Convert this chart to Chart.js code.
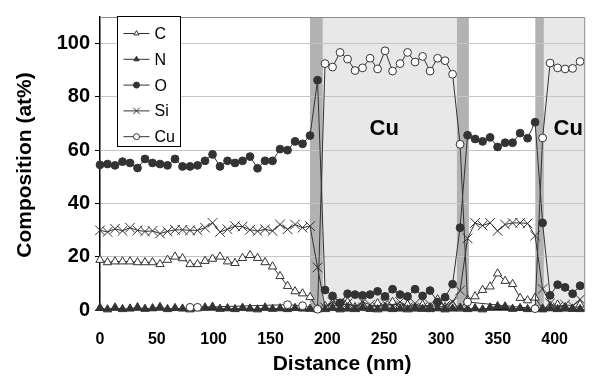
<!DOCTYPE html>
<html>
<head>
<meta charset="utf-8">
<script src="https://cdn.jsdelivr.net/npm/chart.js@4.4.1/dist/chart.umd.min.js"></script>
<style>
  html, body { margin: 0; padding: 0; background: #fff; }
  #wrap { width: 592px; height: 381px; }
</style>
</head>
<body>
<div id="wrap"><canvas id="chart" width="592" height="381"></canvas></div>
<script>
// Depth profile - composition (at%) against distance (nm)

const distance = [
    0.0, 6.6, 13.2, 19.8, 26.4, 33.0, 39.6, 46.2, 52.8, 59.4,
    66.0, 72.6, 79.2, 85.8, 92.4, 99.0, 105.6, 112.2, 118.8, 125.4,
    132.0, 138.6, 145.2, 151.8, 158.4, 165.0, 171.6, 178.2, 184.8, 191.4,
    198.0, 204.6, 211.2, 217.8, 224.4, 231.0, 237.6, 244.2, 250.8, 257.4,
    264.0, 270.6, 277.2, 283.8, 290.4, 297.0, 303.6, 310.2, 316.8, 323.4,
    330.0, 336.6, 343.2, 349.8, 356.4, 363.0, 369.6, 376.2, 382.8, 389.4,
    396.0, 402.6, 409.2, 415.8, 422.4
];

const carbon = [
    18.8, 17.9, 18.2, 18.2, 18.2, 17.9, 17.9, 17.9, 17.2, 18.8,
    20.0, 19.4, 17.2, 17.2, 18.4, 19.2, 20.0, 18.2, 17.6, 19.5,
    20.6, 19.5, 17.9, 16.3, 12.7, 9.0, 7.0, 6.2, 4.8, 0.5,
    1.5, 2.5, 1.0, 3.0, 1.0, 2.0, 0.5, 2.5, 1.0, 3.0,
    1.5, 2.0, 0.5, 2.0, 1.0, 4.0, 1.0, 2.0, 0.5, 3.9,
    5.1, 7.5, 8.8, 13.7, 10.9, 9.7, 4.5, 3.6, 4.6, 0.5,
    1.5, 2.0, 1.0, 0.5, 2.0
];

const nitrogen = [
    0.8, 0.2, 0.9, 0.3, 0.5, 1.0, 0.4, 0.6, 1.1, 0.3,
    0.7, 0.5, 0.2, 0.6, 0.9, 1.2, 0.4, 0.6, 0.3, 0.8,
    0.5, 0.2, 0.9, 0.4, 0.6, 0.3, 0.7, 0.5, 0.4, 0.2,
    0.3, 0.8, 0.2, 0.5, 0.3, 0.9, 0.4, 0.2, 0.6, 0.3,
    0.5, 0.2, 0.7, 0.4, 0.3, 0.6, 0.2, 0.5, 0.8, 0.3,
    0.6, 0.2, 0.9, 1.4, 1.3, 0.4, 0.7, 0.3, 0.5, 0.2,
    0.6, 0.3, 0.5, 0.4, 0.3
];

const oxygen = [
    54.5, 54.8, 54.3, 55.7, 55.2, 53.3, 56.7, 55.2, 54.8, 54.3,
    56.7, 53.9, 53.9, 54.3, 56.0, 58.4, 53.9, 56.0, 55.2, 56.0,
    57.6, 53.2, 56.0, 56.0, 60.4, 60.0, 63.3, 62.4, 65.5, 86.3,
    7.5, 5.3, 2.7, 6.1, 5.8, 5.5, 5.8, 7.0, 5.1, 7.8,
    5.8, 5.1, 7.8, 5.3, 7.3, 3.0, 4.8, 9.7, 30.9, 65.6,
    64.2, 63.3, 64.8, 61.2, 62.8, 62.8, 66.4, 64.5, 70.5, 32.7,
    5.5, 9.5, 8.5, 6.1, 9.1
];

const silicon = [
    29.9, 29.3, 30.5, 29.7, 30.9, 29.9, 29.5, 29.7, 28.7, 29.5,
    30.1, 30.1, 29.9, 29.9, 30.9, 32.7, 29.3, 30.3, 31.5, 31.3,
    30.1, 29.6, 30.3, 29.7, 32.1, 30.3, 32.1, 30.9, 31.5, 16.0,
    1.0, 3.0, 1.5, 2.5, 1.0, 3.0, 2.0, 1.0, 2.5, 1.5,
    3.0, 1.0, 2.5, 1.0, 2.0, 1.0, 1.5, 3.0, 7.3, 26.9,
    32.7, 31.7, 32.7, 29.7, 32.1, 32.7, 32.7, 32.5, 27.9, 7.9,
    2.5, 1.0, 2.0, 1.5, 4.0
];

// Cu is only detected at some points outside the Cu layers (null = not detected)
const copper = [
    null, null, null, null, null, null, null, null, null, null,
    null, null, 1.0, 1.0, null, null, null, null, null, null,
    null, null, null, null, null, 2.0, null, 1.6, null, 0.3,
    92.5, 91.2, 96.7, 94.2, 89.9, 90.9, 94.5, 90.5, 97.3, 89.7,
    92.5, 96.7, 93.1, 95.2, 89.7, 94.5, 93.6, 88.5, 62.2, 3.0,
    null, null, null, null, null, null, null, null, 0.5, 64.6,
    92.7, 90.9, 90.5, 90.7, 93.3
];

// Shaded zones along the distance axis (nm)
const cuLayers = [[196.0, 314.0], [390.5, 426.0]];
const interfaces = [[184.7, 196.0], [314.0, 324.5], [383.0, 390.5]];
const cuLabelSpots = [[250, 68], [412, 68]];

const xTicks = [0, 50, 100, 150, 200, 250, 300, 350, 400];
const yTicks = [0, 20, 40, 60, 80, 100];

const FONT = '"Liberation Sans", Arial, Helvetica, sans-serif';
const INK = '#333333';

const series = [
    { label: 'C',  values: carbon,   style: 'triangle', radius: 4.8, fill: '#ffffff' },
    { label: 'N',  values: nitrogen, style: 'triangle', radius: 4.8, fill: INK },
    { label: 'O',  values: oxygen,   style: 'circle',   radius: 3.9, fill: INK },
    { label: 'Si', values: silicon,  style: 'crossRot', radius: 6.8, fill: INK },
    { label: 'Cu', values: copper,   style: 'circle',   radius: 3.9, fill: '#ffffff' }
];

// Gray bands behind the grid
const bandPlugin = {
    id: 'bands',
    beforeDraw(chart) {
        const { ctx, chartArea: a, scales: { x } } = chart;
        ctx.save();
        ctx.fillStyle = '#e8e8e8';
        cuLayers.forEach(([from, to]) => {
            const x0 = x.getPixelForValue(from);
            const x1 = Math.min(x.getPixelForValue(to), a.right);
            ctx.fillRect(x0, a.top, x1 - x0, a.bottom - a.top);
        });
        ctx.fillStyle = '#b2b2b2';
        interfaces.forEach(([from, to]) => {
            const x0 = x.getPixelForValue(from);
            const x1 = x.getPixelForValue(to);
            ctx.fillRect(x0, a.top, x1 - x0, a.bottom - a.top);
        });
        ctx.restore();
    },
    beforeDatasetsDraw(chart) {
        const { ctx, scales: { x, y } } = chart;
        ctx.save();
        ctx.font = 'bold 22px ' + FONT;
        ctx.fillStyle = '#000';
        ctx.textAlign = 'center';
        ctx.textBaseline = 'middle';
        cuLabelSpots.forEach(([vx, vy]) => {
            ctx.fillText('Cu', x.getPixelForValue(vx), y.getPixelForValue(vy));
        });
        ctx.restore();
    }
};

function drawMarker(ctx, s, cx, cy, r) {
    ctx.beginPath();
    if (s.style === 'circle') {
        ctx.arc(cx, cy, r, 0, Math.PI * 2);
        ctx.fillStyle = s.fill;
        ctx.fill();
        ctx.stroke();
    } else if (s.style === 'triangle') {
        const h = r * 0.5;
        ctx.moveTo(cx, cy - r);
        ctx.lineTo(cx + r * 0.866, cy + h);
        ctx.lineTo(cx - r * 0.866, cy + h);
        ctx.closePath();
        ctx.fillStyle = s.fill;
        ctx.fill();
        ctx.stroke();
    } else {
        const d = r * 0.707;
        ctx.moveTo(cx - d, cy - d);
        ctx.lineTo(cx + d, cy + d);
        ctx.moveTo(cx - d, cy + d);
        ctx.lineTo(cx + d, cy - d);
        ctx.stroke();
    }
}

// Frame, y title and boxed legend inside the plot
const legendPlugin = {
    id: 'boxLegend',
    afterDraw(chart) {
        const { ctx, chartArea: a } = chart;
        ctx.save();
        ctx.strokeStyle = '#8a8a8a';
        ctx.lineWidth = 1;
        ctx.beginPath();
        ctx.moveTo(a.left, a.top + 0.5);
        ctx.lineTo(a.right + 0.5, a.top + 0.5);
        ctx.lineTo(a.right + 0.5, a.bottom);
        ctx.stroke();

        // y axis title, sits a little below the axis middle
        ctx.save();
        ctx.translate(25, 165);
        ctx.rotate(-Math.PI / 2);
        ctx.font = 'bold 21px ' + FONT;
        ctx.fillStyle = '#000';
        ctx.textAlign = 'center';
        ctx.textBaseline = 'middle';
        ctx.fillText('Composition (at%)', 0, 0);
        ctx.restore();

        const bx = 117.5, by = 16.5, bw = 63, bh = 130;
        ctx.fillStyle = '#fff';
        ctx.fillRect(bx, by, bw, bh);
        ctx.strokeStyle = '#000';
        ctx.strokeRect(bx, by, bw, bh);

        ctx.font = '16px ' + FONT;
        ctx.textBaseline = 'middle';
        series.forEach((s, i) => {
            const cy = by + 17 + i * 25.8;
            ctx.strokeStyle = INK;
            ctx.lineWidth = 1;
            ctx.beginPath();
            ctx.moveTo(bx + 6, cy);
            ctx.lineTo(bx + 32, cy);
            ctx.stroke();
            drawMarker(ctx, s, bx + 19, cy, s.style === 'crossRot' ? 4.5 : 3);
            ctx.fillStyle = '#000';
            ctx.fillText(s.label, bx + 37, cy + 1);
        });
        ctx.restore();
    }
};

const datasets = series.map((s, i) => ({
    label: s.label,
    data: distance.map((d, k) => ({ x: d, y: s.values[k] })),
    showLine: true,
    spanGaps: true,
    borderColor: INK,
    borderWidth: 1,
    pointStyle: s.style,
    pointRadius: s.radius,
    pointBackgroundColor: s.fill,
    pointBorderColor: INK,
    pointBorderWidth: 1,
    tension: 0,
    clip: false,
    order: series.length - i
}));

new Chart(document.getElementById('chart'), {
    type: 'scatter',
    data: { datasets: datasets },
    options: {
        responsive: false,
        animation: false,
        events: [],
        devicePixelRatio: 1,
        layout: { padding: { top: 7, right: 5, left: 0, bottom: 0 } },
        plugins: {
            legend: { display: false },
            tooltip: { enabled: false }
        },
        scales: {
            x: {
                type: 'linear',
                min: 0,
                max: 426,
                afterFit: function(scale) { scale.height = 71; },
                afterBuildTicks: function(scale) {
                    scale.ticks = xTicks.map(v => ({ value: v }));
                },
                grid: { display: false, drawTicks: false },
                border: { color: '#000', width: 1.5 },
                ticks: {
                    padding: 20,
                    color: '#000',
                    maxRotation: 0,
                    font: { family: FONT, size: 16, weight: 'bold' }
                },
                title: {
                    display: true,
                    text: 'Distance (nm)',
                    color: '#000',
                    padding: { top: 0, bottom: 4 },
                    font: { family: FONT, size: 21, weight: 'bold' }
                }
            },
            y: {
                min: 0,
                max: 110,
                afterFit: function(scale) { scale.width = 100; },
                afterBuildTicks: function(scale) {
                    scale.ticks = yTicks.map(v => ({ value: v }));
                },
                grid: { color: '#c4c4c4', lineWidth: 1, tickColor: '#000', tickLength: 5 },
                border: { color: '#000', width: 1.5 },
                ticks: {
                    padding: 5,
                    color: '#000',
                    font: { family: FONT, size: 20, weight: 'bold' }
                },
                title: { display: false }
            }
        }
    },
    plugins: [bandPlugin, legendPlugin]
});
</script>
</body>
</html>
